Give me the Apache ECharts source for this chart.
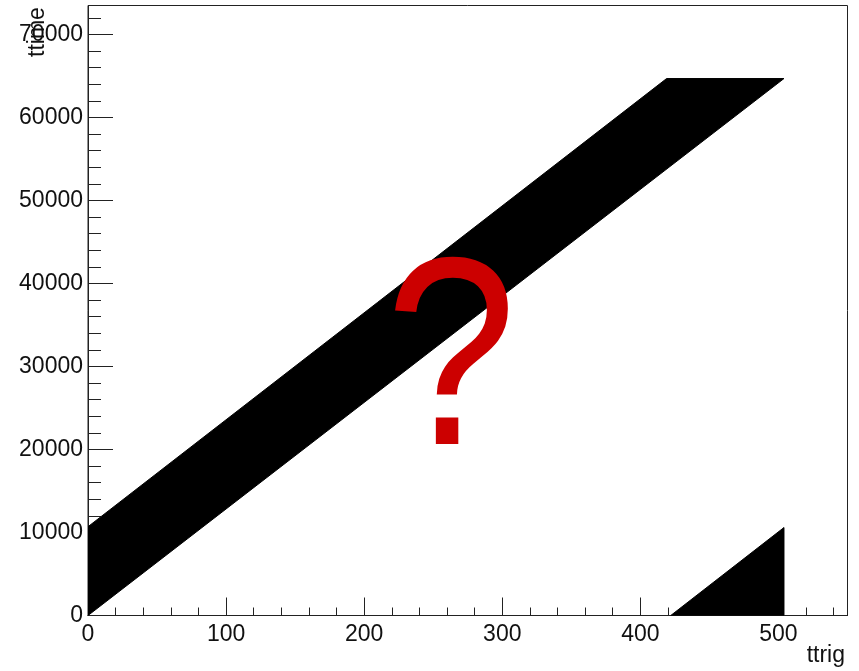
<!DOCTYPE html>
<html>
<head>
<meta charset="utf-8">
<script src="https://cdn.jsdelivr.net/npm/echarts@6/dist/echarts.min.js"></script>
<style>
html,body{margin:0;padding:0;background:#fff;}
#c{width:859px;height:671px;}
</style>
</head>
<body>
<div id="c"></div>
<script>
// ---- data ----
// main band polygon (ttrig, ttime vertices)
var bandTrig = [0, 0, 419, 504];
var bandTime = [0, 10700, 64700, 64700];
// wrapped-around triangle at lower right
var wrapTrig = [422, 504, 504];
var wrapTime = [0, 10600, 0];

// axis ticks
var xTicks = [0, 100, 200, 300, 400, 500];
var yTicks = [0, 10000, 20000, 30000, 40000, 50000, 60000, 70000];
var xMinor = [];
for (var i = 0; i <= 540; i += 20) xMinor.push(i);
var yMinor = [];
for (var j = 0; j <= 72000; j += 2000) yMinor.push(j);

var xName = 'ttrig';
var yName = 'ttime';

var polygons = [
  {t: bandTrig, y: bandTime},
  {t: wrapTrig, y: wrapTime}
];

var FONT = 'Liberation Sans';
var AX = '#222';

var chart = echarts.init(document.getElementById('c'), null, {renderer: 'canvas'});

function plain(v) { return String(v); }

function baseX(extra) {
  return Object.assign({
    type: 'value', min: 0, max: 550, gridIndex: 0, position: 'bottom',
    splitLine: {show: false},
    axisLine: {show: true, lineStyle: {color: AX, width: 1}}
  }, extra);
}
function baseY(extra) {
  return Object.assign({
    type: 'value', min: 0, max: 73500, gridIndex: 0, position: 'left',
    splitLine: {show: false},
    axisLine: {show: true, lineStyle: {color: AX, width: 1}}
  }, extra);
}

chart.setOption({
  animation: false,
  backgroundColor: '#fff',
  grid: {left: 88, right: 11.5, top: 5.5, bottom: 55.5, show: true, borderColor: AX, borderWidth: 1, backgroundColor: 'transparent'},
  xAxis: [
    baseX({
      axisTick: {show: true, inside: true, length: 18, customValues: xTicks, lineStyle: {color: AX}},
      axisLabel: {show: true, customValues: xTicks, formatter: plain, margin: 8, fontFamily: FONT, fontSize: 23, color: '#111'}
    }),
    baseX({
      axisTick: {show: true, inside: true, length: 8, customValues: xMinor, lineStyle: {color: AX}},
      axisLabel: {show: false}
    })
  ],
  yAxis: [
    baseY({
      axisTick: {show: true, inside: true, length: 25, customValues: yTicks, lineStyle: {color: AX}},
      axisLabel: {show: true, customValues: yTicks, formatter: plain, margin: 5, fontFamily: FONT, fontSize: 23, color: '#111'}
    }),
    baseY({
      axisTick: {show: true, inside: true, length: 13, customValues: yMinor, lineStyle: {color: AX}},
      axisLabel: {show: false}
    })
  ],
  series: [{
    type: 'custom',
    xAxisIndex: 0, yAxisIndex: 0,
    data: polygons.map(function (p, k) { return [k]; }),
    renderItem: function (params, api) {
      var p = polygons[api.value(0)];
      var pts = [];
      for (var k = 0; k < p.t.length; k++) pts.push(api.coord([p.t[k], p.y[k]]));
      return {
        type: 'polygon',
        shape: {points: pts},
        style: {fill: '#000', stroke: '#000', lineWidth: 1}
      };
    },
    clip: true,
    silent: true
  }],
  graphic: [
    {type: 'text', right: 14, top: 644, z: 10,
     style: {text: xName, font: '23px "Liberation Sans"', fill: '#111', textAlign: 'right'}},
    {type: 'text', x: 26, y: 57, rotation: Math.PI / 2, z: 10,
     style: {text: yName, font: '23px "Liberation Sans"', fill: '#111', textAlign: 'left', textVerticalAlign: 'top'}},
    {type: 'text', x: 451, y: 370, scaleX: 0.88, z: 20,
     style: {text: '?', font: '268px "Liberation Sans"', fill: '#cc0000', textAlign: 'center', textVerticalAlign: 'middle'}}
  ]
});
</script>
</body>
</html>
